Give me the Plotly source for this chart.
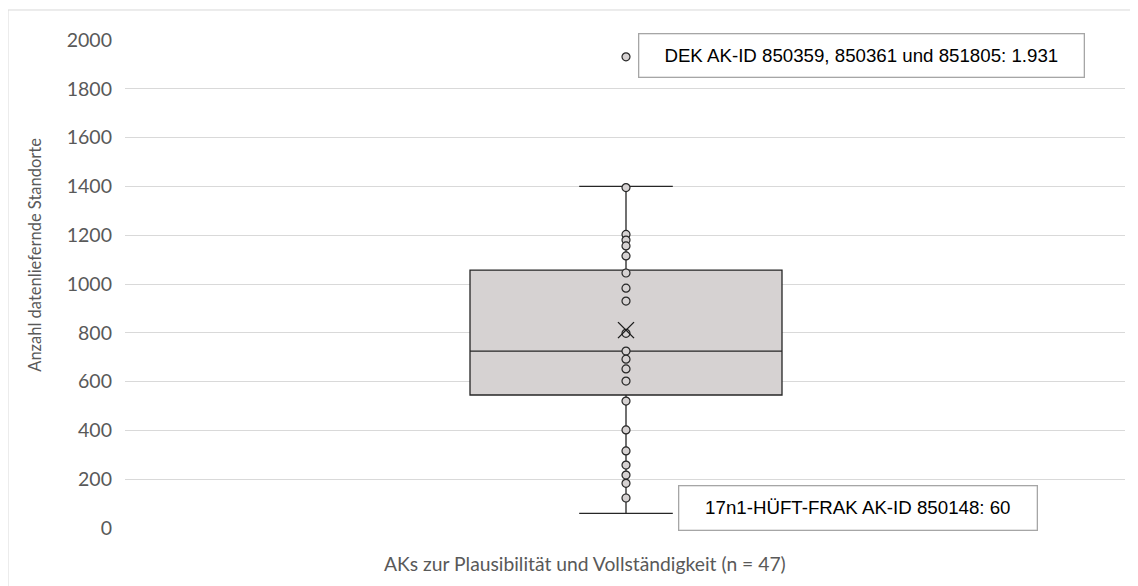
import plotly.graph_objects as go

# ---- data ----
category = ["AKs zur Plausibilität und Vollständigkeit (n = 47)"]
q1 = [545]
median = [725]
q3 = [1057]
mean = [811]
lower_whisker = [60]
upper_whisker = [1400]
inner_points = [1395, 1203, 1180, 1156, 1115, 1045, 983, 930, 798, 725, 692, 652,
                602, 520, 402, 316, 258, 217, 183, 123]
outlier_points = [1931]
y_ticks = [0, 200, 400, 600, 800, 1000, 1200, 1400, 1600, 1800, 2000]
label_top = "DEK AK-ID 850359, 850361 und 851805: 1.931"
label_bottom = "17n1-HÜFT-FRAK AK-ID 850148: 60"

xpos = [0]

fig = go.Figure()
fig.add_trace(go.Box(
    x=xpos, q1=q1, median=median, q3=q3, mean=mean,
    lowerfence=lower_whisker, upperfence=upper_whisker,
    boxmean=False, width=0.312, whiskerwidth=0.3,
    fillcolor="#d6d2d2", line=dict(color="#262626", width=1.3),
    boxpoints=False, showlegend=False, hoverinfo="skip",
))
pts = inner_points + outlier_points
fig.add_trace(go.Scatter(
    x=[0] * len(pts), y=pts, mode="markers",
    marker=dict(symbol="circle", size=8, color="#d6d2d2",
                line=dict(color="#262626", width=1.2)),
    showlegend=False, hoverinfo="skip",
))
fig.add_trace(go.Scatter(
    x=xpos, y=mean, mode="markers",
    marker=dict(symbol="x-thin-open", size=16, color="#1a1a1a",
                line=dict(color="#1a1a1a", width=1.4)),
    showlegend=False, hoverinfo="skip",
))

fig.update_layout(
    width=1130, height=578,
    margin=dict(l=117, r=13, t=32, b=58),
    paper_bgcolor="white", plot_bgcolor="white",
    font=dict(family="Lato, sans-serif", color="#595959"),
    xaxis=dict(range=[-0.501, 0.499], showticklabels=False, showgrid=False,
               zeroline=False, showline=False, fixedrange=True),
    yaxis=dict(range=[0, 2000], tickvals=y_ticks, ticktext=[str(v) for v in y_ticks],
               tickfont=dict(size=19.5, color="#595959"),
               showgrid=True, gridcolor="#d9d9d9", gridwidth=1.3,
               zeroline=False, showline=False, ticks="", ticklabelstandoff=12),
    shapes=[
        dict(type="line", xref="paper", yref="paper", x0=-0.117, x1=1.1, y0=1.0615, y1=1.0615,
             line=dict(color="#d9d9d9", width=1)),
        dict(type="line", xref="paper", yref="paper", x0=-0.117, x1=-0.117, y0=1.0615, y1=-0.2,
             line=dict(color="#d9d9d9", width=1)),
    ],
    annotations=[
        dict(text="Anzahl datenliefernde Standorte", xref="paper", yref="paper",
             x=-0.09, y=0.56, xanchor="center", yanchor="middle", textangle=-90,
             showarrow=False, font=dict(size=16.5, color="#595959")),
        dict(text=category[0], xref="paper", yref="paper", x=0.4595, y=-0.072,
             xanchor="center", yanchor="middle", showarrow=False,
             font=dict(size=19.3, color="#595959")),
        dict(text=label_top, xref="paper", yref="y", x=0.7365, y=1938,
             xanchor="center", yanchor="middle",
             showarrow=False, font=dict(family="Liberation Sans, Arial", size=18.7, color="#000000"),
             bgcolor="white", bordercolor="#a6a6a6", borderwidth=1.3, borderpad=0,
             width=444, height=42, align="center"),
        dict(text=label_bottom, xref="paper", yref="y", x=0.7325, y=80,
             xanchor="center", yanchor="middle",
             showarrow=False, font=dict(family="Liberation Sans, Arial", size=18.7, color="#000000"),
             bgcolor="white", bordercolor="#a6a6a6", borderwidth=1.3, borderpad=0,
             width=357, height=43, align="center"),
    ],
)

fig.write_html("out.html")
